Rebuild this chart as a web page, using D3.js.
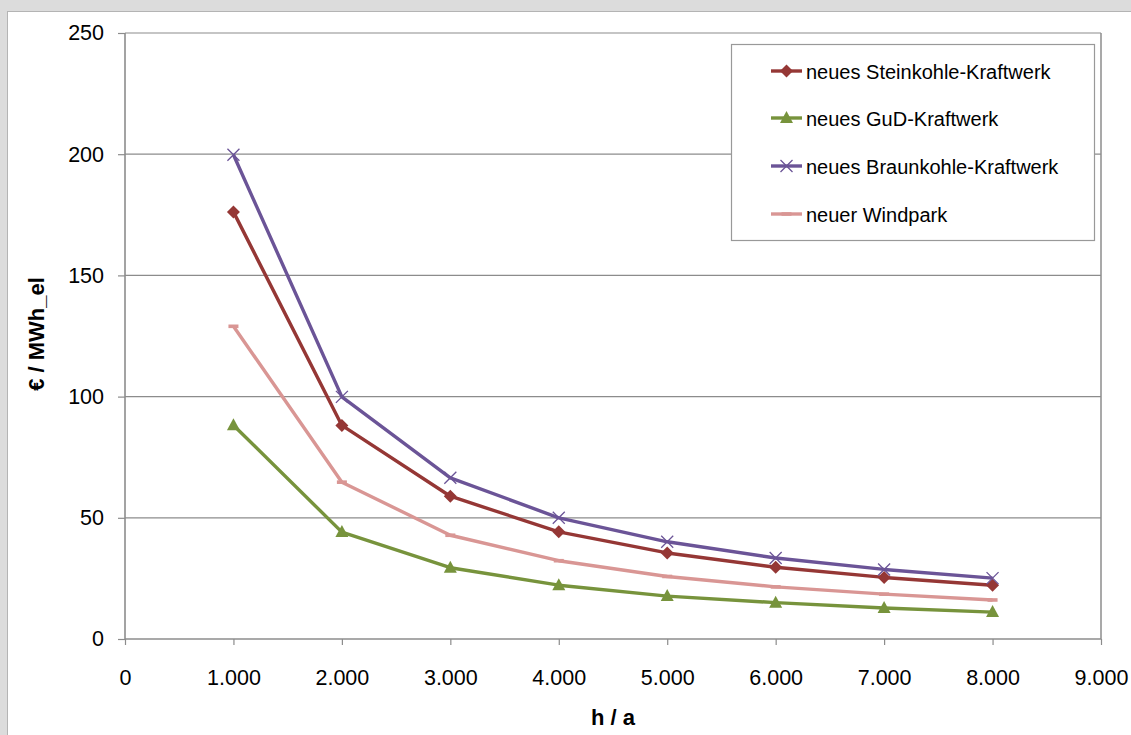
<!DOCTYPE html>
<html>
<head>
<meta charset="utf-8">
<script src="https://cdn.jsdelivr.net/npm/d3@7"></script>
<style>
  html, body { margin: 0; padding: 0; background: #dcdcdc; }
  svg { display: block; }
</style>
</head>
<body>
<svg id="chart" width="1131" height="735"></svg>
<script>
const hours = [1000, 2000, 3000, 4000, 5000, 6000, 7000, 8000];
const steinkohle = [176.2, 88.1, 58.9, 44.2, 35.5, 29.6, 25.4, 22.2];
const gud = [88.2, 44.1, 29.4, 22.2, 17.7, 15.0, 12.8, 11.1];
const braunkohle = [199.8, 99.9, 66.5, 50.0, 40.1, 33.4, 28.7, 25.1];
const windpark = [129.0, 64.7, 42.8, 32.3, 25.8, 21.5, 18.5, 16.1];
const xTicks = [0, 1000, 2000, 3000, 4000, 5000, 6000, 7000, 8000, 9000];
const yTicks = [0, 50, 100, 150, 200, 250];
const seriesNames = ["neues Steinkohle-Kraftwerk", "neues GuD-Kraftwerk", "neues Braunkohle-Kraftwerk", "neuer Windpark"];

const series = [
  { name: seriesNames[0], values: steinkohle, color: "#953735", marker: "diamond" },
  { name: seriesNames[1], values: gud, color: "#77933c", marker: "triangle" },
  { name: seriesNames[2], values: braunkohle, color: "#6b5497", marker: "cross" },
  { name: seriesNames[3], values: windpark, color: "#d99694", marker: "dash" }
];

const svg = d3.select("#chart");
const font = "'Liberation Sans', Arial, sans-serif";

svg.append("rect").attr("x", 7.5).attr("y", 11.5).attr("width", 1140).attr("height", 740)
  .attr("fill", "#ffffff").attr("stroke", "#b4b4b4").attr("stroke-width", 1);

const L = 125, R = 1101, T = 33, B = 639;
const x = d3.scaleLinear().domain([0, 9000]).range([L, R]);
const y = d3.scaleLinear().domain([0, 250]).range([B, T]);

const fmt = d => d === 0 ? "0" : d3.format(",")(d).replace(/,/g, ".");

svg.append("g").selectAll("line").data(yTicks.filter(d => d > 0)).join("line")
  .attr("x1", L).attr("x2", R)
  .attr("y1", d => y(d)).attr("y2", d => y(d))
  .attr("stroke", "#8c8c8c").attr("stroke-width", 1.2);

svg.append("line").attr("x1", R).attr("x2", R).attr("y1", T).attr("y2", B)
  .attr("stroke", "#8c8c8c").attr("stroke-width", 1.5);

const yAxis = d3.axisLeft(y).tickValues(yTicks).tickSize(7).tickPadding(14).tickFormat(fmt);
const gy = svg.append("g").attr("transform", `translate(${L},0)`).call(yAxis);
const xAxis = d3.axisBottom(x).tickValues(xTicks).tickSize(6).tickPadding(25).tickFormat(fmt);
const gx = svg.append("g").attr("transform", `translate(0,${B})`).call(xAxis);
[gx, gy].forEach(g => {
  g.select(".domain").attr("stroke", "#8c8c8c").attr("stroke-width", 1.6);
  g.selectAll(".tick line").attr("stroke", "#8c8c8c").attr("stroke-width", 1.2);
  g.selectAll(".tick text").attr("font-family", font).attr("font-size", 21.5).attr("fill", "#000");
});
gx.select(".domain").attr("d", `M${L},0H${R}`);
gy.select(".domain").attr("d", `M0,${B}V${T}`);

svg.append("text").attr("x", x(4500)).attr("y", 725).attr("text-anchor", "middle")
  .attr("font-family", font).attr("font-size", 22).attr("font-weight", "bold").text("h / a");
svg.append("text").attr("transform", `translate(44,${334}) rotate(-90)`)
  .attr("text-anchor", "middle").attr("font-family", font).attr("font-size", 22)
  .attr("font-weight", "bold").text("€ / MWh_el");

function drawMarker(g, type, color, cx, cy) {
  if (type === "diamond") {
    g.append("path").attr("d", `M${cx},${cy - 6.5}L${cx + 6.5},${cy}L${cx},${cy + 6.5}L${cx - 6.5},${cy}Z`).attr("fill", color);
  } else if (type === "triangle") {
    g.append("path").attr("d", `M${cx},${cy - 7}L${cx + 6.5},${cy + 5}L${cx - 6.5},${cy + 5}Z`).attr("fill", color);
  } else if (type === "cross") {
    g.append("path").attr("d", `M${cx - 6},${cy - 6}L${cx + 6},${cy + 6}M${cx + 6},${cy - 6}L${cx - 6},${cy + 6}`)
      .attr("stroke", color).attr("stroke-width", 1.3).attr("fill", "none");
  } else if (type === "dash") {
    g.append("rect").attr("x", cx - 5).attr("y", cy - 1.8).attr("width", 10).attr("height", 3.6).attr("fill", color);
  }
}

const line = d3.line().x(d => x(d[0])).y(d => y(d[1]));
series.forEach(s => {
  const g = svg.append("g");
  const pts = hours.map((h, i) => [h, s.values[i]]);
  g.append("path").attr("d", line(pts)).attr("fill", "none").attr("stroke", s.color)
    .attr("stroke-width", 3.4).attr("stroke-linejoin", "round");
  pts.forEach(p => drawMarker(g, s.marker, s.color, x(p[0]), y(p[1])));
});

const lg = svg.append("g");
lg.append("rect").attr("x", 731.5).attr("y", 44.5).attr("width", 363).attr("height", 196)
  .attr("fill", "#fff").attr("stroke", "#999").attr("stroke-width", 1.2);
const legendY = [71, 118, 166, 214];
series.forEach((s, i) => {
  const ly = legendY[i];
  lg.append("line").attr("x1", 771).attr("x2", 802).attr("y1", ly).attr("y2", ly)
    .attr("stroke", s.color).attr("stroke-width", 3.4);
  drawMarker(lg, s.marker, s.color, 786.5, ly);
  lg.append("text").attr("x", 806).attr("y", ly + 7.5).attr("font-family", font)
    .attr("font-size", 20).attr("fill", "#000").text(s.name);
});
</script>
</body>
</html>
